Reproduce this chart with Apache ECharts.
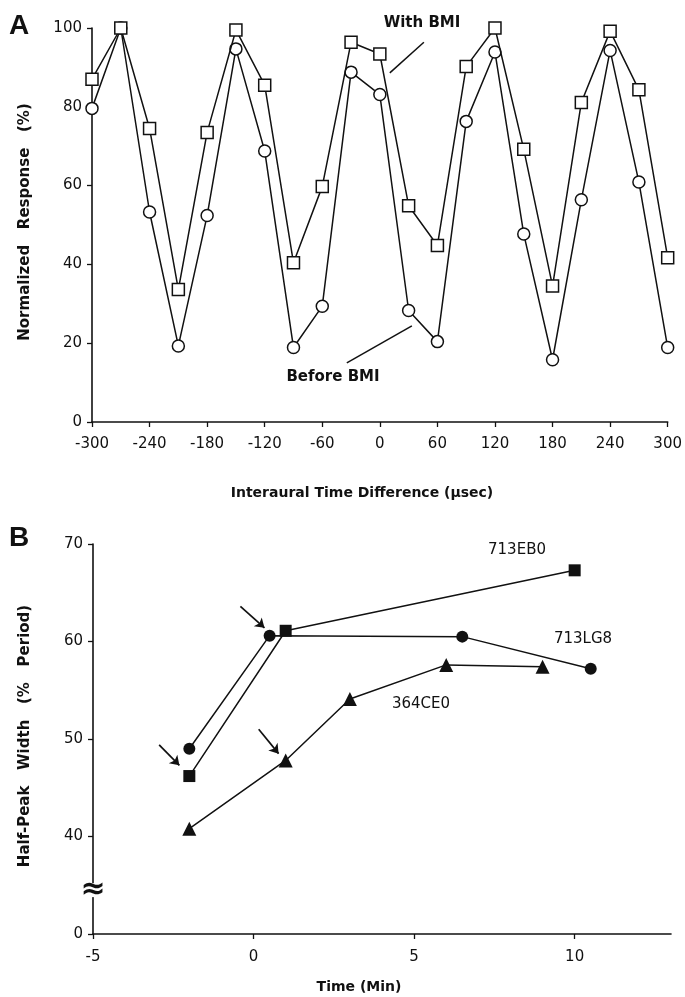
<!DOCTYPE html>
<html>
<head>
<meta charset="utf-8">
<script src="https://cdn.jsdelivr.net/npm/echarts@6/dist/echarts.min.js"></script>
<style>
html, body { margin: 0; padding: 0; background: #fff; }
#chart { width: 685px; height: 997px; }
</style>
</head>
<body>
<div id="chart"></div>
<script>
// panel A : interaural time difference tuning
var itdTicks = [-300, -240, -180, -120, -60, 0, 60, 120, 180, 240, 300];
var itd = [-300, -270, -240, -210, -180, -150, -120, -90, -60, -30, 0, 30, 60, 90, 120, 150, 180, 210, 240, 270, 300];
var withBMI = [87, 100, 74.5, 33.6, 73.5, 99.5, 85.5, 40.4, 59.8, 96.4, 93.4, 54.9, 44.8, 90.2, 100, 69.2, 34.5, 81.1, 99.2, 84.3, 41.7];
var beforeBMI = [79.6, 100, 53.3, 19.3, 52.4, 94.7, 68.8, 18.9, 29.4, 88.8, 83.1, 28.3, 20.4, 76.3, 93.9, 47.7, 15.8, 56.4, 94.3, 60.9, 18.9];

// panel B : half-peak width over time
var timeTicks = [-5, 0, 5, 10];
var widthTicks = [30, 40, 50, 60, 70];   // 30 is shown as "0" (broken axis)
var ebTime = [-2, 1, 10];
var ebWidth = [46.2, 61.1, 67.3];
var lgTime = [-2, 0.5, 6.5, 10.5];
var lgWidth = [49, 60.6, 60.5, 57.2];
var ceTime = [-2, 1, 3, 6, 9];
var ceWidth = [40.8, 47.8, 54.1, 57.6, 57.4];

function pairs(xs, ys) {
	var out = [];
	for (var i = 0; i < xs.length; i++) {
		out.push([xs[i], ys[i]]);
	}
	return out;
}

var FONT = 'DejaVu Sans';
var INK = '#111';

var tickLabel = { color: INK, fontFamily: FONT, fontSize: 15 };

var myChart = echarts.init(document.getElementById('chart'), null, { renderer: 'canvas' });

var option = {
	animation: false,
	backgroundColor: '#fff',
	grid: [
		{ left: 92, right: 17, top: 28, bottom: 575 },
		{ left: 93, right: 14, top: 544, bottom: 63 }
	],
	xAxis: [
		{
			gridIndex: 0, type: 'value', min: -300, max: 300, interval: 60,
			axisLine: { show: true, onZero: false, lineStyle: { color: INK, width: 1.6 } },
			axisTick: { show: true, length: 5, customValues: itdTicks, lineStyle: { color: INK, width: 1.3 } },
			axisLabel: Object.assign({ margin: 15, customValues: itdTicks }, tickLabel),
			splitLine: { show: false }
		},
		{
			gridIndex: 1, type: 'value', min: -5, max: 13,
			axisLine: { show: true, onZero: false, lineStyle: { color: INK, width: 1.6 } },
			axisTick: { show: true, length: 5, customValues: timeTicks, lineStyle: { color: INK, width: 1.3 } },
			axisLabel: Object.assign({ margin: 16, customValues: timeTicks }, tickLabel),
			splitLine: { show: false }
		}
	],
	yAxis: [
		{
			gridIndex: 0, type: 'value', min: 0, max: 100, interval: 20,
			axisLine: { show: true, onZero: false, lineStyle: { color: INK, width: 1.6 } },
			axisTick: { show: true, length: 5, lineStyle: { color: INK, width: 1.3 } },
			axisLabel: Object.assign({ margin: 10 }, tickLabel),
			splitLine: { show: false }
		},
		{
			gridIndex: 1, type: 'value', min: 30, max: 70, interval: 10,
			axisLine: { show: true, onZero: false, lineStyle: { color: INK, width: 1.6 } },
			axisTick: { show: true, length: 5, customValues: widthTicks, lineStyle: { color: INK, width: 1.3 } },
			axisLabel: Object.assign({
				margin: 10,
				customValues: widthTicks,
				formatter: function (v) { return v === 30 ? '0' : String(v); }
			}, tickLabel),
			splitLine: { show: false }
		}
	],
	series: [
		{
			name: 'Before BMI', type: 'line', xAxisIndex: 0, yAxisIndex: 0,
			data: pairs(itd, beforeBMI),
			symbol: 'circle', symbolSize: 12,
			lineStyle: { color: INK, width: 1.5 },
			itemStyle: { color: '#fff', borderColor: INK, borderWidth: 1.5 },
			z: 3,
			markLine: {
				silent: true, symbol: ['none', 'none'],
				label: { show: false },
				lineStyle: { color: INK, width: 1.5, type: 'solid' },
				data: [[{ coord: [-34.4, 15.0] }, { coord: [33.4, 24.4] }]]
			}
		},
		{
			name: 'With BMI', type: 'line', xAxisIndex: 0, yAxisIndex: 0,
			data: pairs(itd, withBMI),
			symbol: 'rect', symbolSize: 12,
			lineStyle: { color: INK, width: 1.5 },
			itemStyle: { color: '#fff', borderColor: INK, borderWidth: 1.5 },
			z: 4,
			markLine: {
				silent: true, symbol: ['none', 'none'],
				label: { show: false },
				lineStyle: { color: INK, width: 1.5, type: 'solid' },
				data: [[{ coord: [45.9, 96.4] }, { coord: [10.4, 88.6] }]]
			}
		},
		{
			name: '364CE0', type: 'line', xAxisIndex: 1, yAxisIndex: 1,
			data: pairs(ceTime, ceWidth),
			symbol: 'triangle', symbolSize: 14,
			lineStyle: { color: INK, width: 1.5 },
			itemStyle: { color: INK },
			z: 3,
			markLine: {
				silent: true, symbol: ['none', 'arrow'], symbolSize: 9,
				label: { show: false },
				lineStyle: { color: INK, width: 1.7, type: 'solid' },
				data: [
					[{ coord: [-0.41, 63.6] }, { coord: [0.34, 61.4] }],
					[{ coord: [-2.94, 49.4] }, { coord: [-2.31, 47.3] }],
					[{ coord: [0.16, 51.0] }, { coord: [0.78, 48.5] }]
				]
			}
		},
		{
			name: '713LG8', type: 'line', xAxisIndex: 1, yAxisIndex: 1,
			data: pairs(lgTime, lgWidth),
			symbol: 'circle', symbolSize: 12,
			lineStyle: { color: INK, width: 1.5 },
			itemStyle: { color: INK },
			z: 3
		},
		{
			name: '713EB0', type: 'line', xAxisIndex: 1, yAxisIndex: 1,
			data: pairs(ebTime, ebWidth),
			symbol: 'rect', symbolSize: 12,
			lineStyle: { color: INK, width: 1.5 },
			itemStyle: { color: INK },
			z: 4
		}
	],
	graphic: [
		// panel letters
		{ type: 'text', left: 9, top: 12, style: { text: 'A', font: 'bold 28px "Liberation Sans"', fill: INK } },
		{ type: 'text', left: 9, top: 524, style: { text: 'B', font: 'bold 28px "Liberation Sans"', fill: INK } },
		// axis titles
		{ type: 'text', x: 25, y: 222, rotation: Math.PI / 2,
			style: { text: 'Normalized   Response   (%)', font: 'bold 15px "DejaVu Sans"', fill: INK, align: 'center', verticalAlign: 'middle' } },
		{ type: 'text', x: 362, y: 493,
			style: { text: 'Interaural Time Difference (\u00b5sec)', font: 'bold 14px "DejaVu Sans"', fill: INK, align: 'center', verticalAlign: 'middle' } },
		{ type: 'text', x: 25, y: 736, rotation: Math.PI / 2,
			style: { text: 'Half-Peak   Width   (%   Period)', font: 'bold 15px "DejaVu Sans"', fill: INK, align: 'center', verticalAlign: 'middle' } },
		{ type: 'text', x: 359, y: 987,
			style: { text: 'Time (Min)', font: 'bold 14px "DejaVu Sans"', fill: INK, align: 'center', verticalAlign: 'middle' } },
		// curve labels
		{ type: 'text', x: 422, y: 23,
			style: { text: 'With BMI', font: 'bold 15px "DejaVu Sans"', fill: INK, align: 'center', verticalAlign: 'middle' } },
		{ type: 'text', x: 333, y: 377,
			style: { text: 'Before BMI', font: 'bold 15px "DejaVu Sans"', fill: INK, align: 'center', verticalAlign: 'middle' } },
		{ type: 'text', x: 517, y: 550,
			style: { text: '713EB0', font: '15px "DejaVu Sans"', fill: INK, align: 'center', verticalAlign: 'middle' } },
		{ type: 'text', x: 583, y: 639,
			style: { text: '713LG8', font: '15px "DejaVu Sans"', fill: INK, align: 'center', verticalAlign: 'middle' } },
		{ type: 'text', x: 421, y: 704,
			style: { text: '364CE0', font: '15px "DejaVu Sans"', fill: INK, align: 'center', verticalAlign: 'middle' } }
	]
};

myChart.setOption(option);

// axis break mark on panel B y axis, between 0 and 40
var brk = myChart.convertToPixel({ gridIndex: 1 }, [-5, 34.5]);
myChart.setOption({
	graphic: option.graphic.concat([
		{ type: 'rect', shape: { x: brk[0] - 3, y: brk[1] - 7, width: 6, height: 14 }, style: { fill: '#fff' }, z: 10 },
		{ type: 'text', x: brk[0], y: brk[1], z: 11,
			style: { text: '\u2248', font: 'bold 30px "DejaVu Sans"', fill: INK, align: 'center', verticalAlign: 'middle' } }
	])
});
</script>
</body>
</html>
